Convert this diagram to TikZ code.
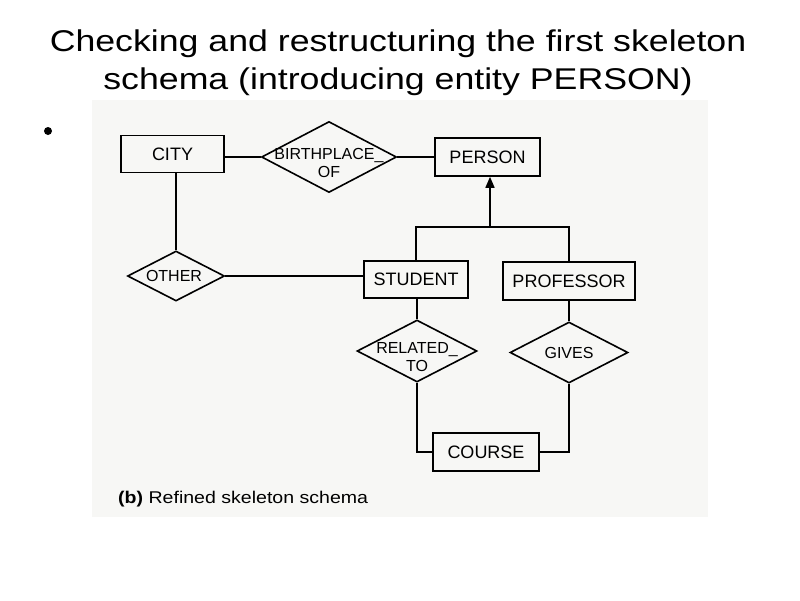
\documentclass[tikz,border=0pt]{standalone}
\usepackage{fontspec}
\setmainfont{Liberation Sans}
\newfontfamily\titlefont[FakeStretch=1.19]{Liberation Sans}
\newfontfamily\capfont[FakeStretch=1.15]{Liberation Sans}
\usetikzlibrary{shapes.geometric,arrows.meta}
\definecolor{scanbg}{RGB}{247,247,245}
\begin{document}
\begin{tikzpicture}[x=1pt,y=-1pt,
  ent/.style={draw, line width=1.6pt, minimum width=#1, minimum height=37pt, inner sep=0pt,
    font=\fontsize{18}{18}\selectfont},
  rel/.style 2 args={draw, diamond, line width=1.6pt, inner sep=0pt, minimum width=#1, minimum height=#2},
  rtxt/.style={align=center, inner sep=0pt, font=\fontsize{16}{18}\selectfont},
  ttl/.style={anchor=base, inner sep=0pt, font=\titlefont\fontsize{30}{30}\selectfont},
  conn/.style={line width=1.6pt}]
\useasboundingbox (0,0) rectangle (800,600);
\fill[white] (0,0) rectangle (800,600);
\fill[scanbg] (92,100) rectangle (708,517);

% title
\node[ttl] (title1) at (398,51) {Checking and restructuring the first skeleton};
\node[ttl] (title2) at (398,89) {schema (introducing entity PERSON)};
\fill (48,131) circle (4);

% entities
\node[ent=103pt] (city) at (172.5,154) {CITY};
\node[ent=105pt, minimum height=38pt] (person) at (487.5,157) {PERSON};
\node[ent=104pt] (student) at (416,279.5) {STUDENT};
\node[ent=132pt, minimum height=38pt] (prof) at (569,281) {PROFESSOR};
\node[ent=106pt, minimum height=38pt] (course) at (486,452) {COURSE};

% relationships
\node[rel={135pt}{71pt}] (birth) at (329,157) {};
\node[rtxt] (birthtxt) at (329,163) {BIRTHPLACE\_\\OF};
\node[rel={97pt}{50pt}] (other) at (176,276) {};
\node[rtxt] (othertxt) at (174,276) {OTHER};
\node[rel={120pt}{62pt}] (related) at (417,351) {};
\node[rtxt] (relatedtxt) at (417,357) {RELATED\_\\TO};
\node[rel={118pt}{61pt}] (gives) at (569,352.5) {};
\node[rtxt] (givestxt) at (569,352.5) {GIVES};

% connectors
\draw[conn] (birth.west) -- (birth.west -| city.east);
\draw[conn] (birth.east) -- (birth.east -| person.west);
\draw[conn] (other.north) -- (other.north |- city.south);
\draw[conn] (other.east) -- (other.east -| student.west);
\coordinate (jn) at (490,227);
\draw[conn] (student.north) |- (jn) -| (prof.north);
\draw[conn, -{Triangle[length=11pt, width=9pt]}] (jn) -- (jn |- person.south);
\draw[conn] (related.north |- student.south) -- (related.north);
\draw[conn] (prof.south) -- (gives.north);
\draw[conn] (related.south) |- (course.west);
\draw[conn] (gives.south) |- (course.east);

% caption
\node[anchor=base west, inner sep=0pt, font=\capfont\fontsize{17}{17}\selectfont] (caption) at (118,503)
  {\textbf{(b)} Refined skeleton schema};
\end{tikzpicture}
\end{document}
